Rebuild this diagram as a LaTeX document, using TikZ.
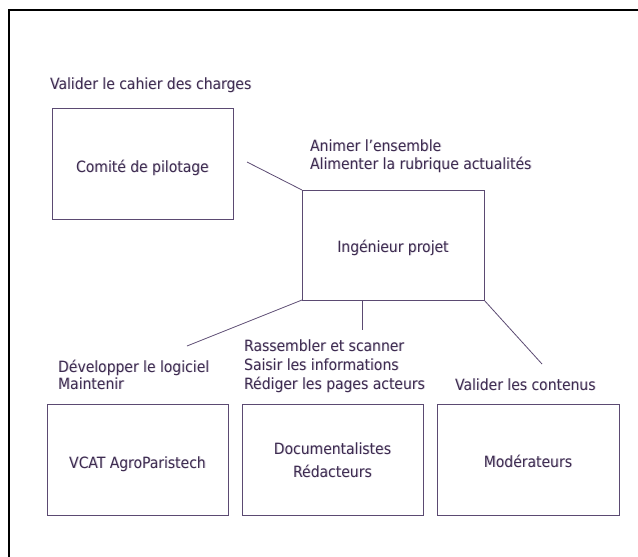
\documentclass[tikz,border=0pt]{standalone}
\usepackage{fontspec}
\setmainfont{DejaVu Sans Condensed}
\definecolor{ink}{HTML}{3D2B50}
\definecolor{edge}{HTML}{5B4A72}
\definecolor{shade}{HTML}{CFC9D6}
% text with a faint drop shadow
\newcommand{\shtext}[1]{\makebox[0pt][l]{\hspace{0.9pt}\raisebox{-0.9pt}{\textcolor{shade}{#1}}}#1}
\tikzset{
  box/.style={draw=edge, line width=1pt},
  link/.style={draw=edge, line width=0.8pt},
  frame/.style={draw=black, line width=2pt},
  lbl/.style={anchor=base west, inner sep=0pt, text=ink, font=\fontsize{15.5}{18}\selectfont},
  mid/.style={anchor=base, inner sep=0pt, text=ink, font=\fontsize{15.5}{18}\selectfont},
}
\begin{document}
\begin{tikzpicture}[x=1pt,y=-1pt]
\useasboundingbox (0,0) rectangle (638,557);
% page frame, cut on the right and bottom
\draw[frame] (9,557) -- (9,10) -- (638,10);

% boxes
\draw[box] (52,108) rectangle (233,219);
\draw[box] (302,190) coordinate (ipTL) rectangle (484,300) coordinate (ipBR);
\coordinate (ipBL) at (302,300);
\coordinate (ipBM) at (362,300);
\draw[box] (47,404) rectangle (228,515);
\draw[box] (242,404) rectangle (423,515);
\draw[box] (437,404) rectangle (619,515);

% connectors
\coordinate (c1) at (247,162);
\coordinate (c2) at (187,346);
\coordinate (c3) at (362,330);
\coordinate (c4) at (542,364);
\draw[link] (c1) -- (ipTL);
\draw[link] (ipBL) -- (c2);
\draw[link] (ipBM) -- (c3);
\draw[link] (ipBR) -- (c4);

% box titles
\node[mid] (tcp) at (142.5,172) {\shtext{Comité de pilotage}};
\node[mid] (tip) at (393,252) {\shtext{Ingénieur projet}};
\node[mid] (tvc) at (137.5,468) {\shtext{VCAT AgroParistech}};
\node[mid] (tdo) at (332.5,454) {\shtext{Documentalistes}};
\node[mid] (tre) at (332.5,477) {\shtext{Rédacteurs}};
\node[mid] (tmo) at (528,467) {\shtext{Modérateurs}};

% role descriptions
\node[lbl] (l1) at (50,89) {\shtext{Valider le cahier des charges}};
\node[lbl] (l2) at (310,151) {\shtext{Animer l’ensemble}};
\node[lbl] (l3) at (310,169) {\shtext{Alimenter la rubrique actualités}};
\node[lbl] (l4) at (58,372) {\shtext{Développer le logiciel}};
\node[lbl] (l5) at (58,389) {\shtext{Maintenir}};
\node[lbl] (l6) at (244,351) {\shtext{Rassembler et scanner}};
\node[lbl] (l7) at (244,370) {\shtext{Saisir les informations}};
\node[lbl] (l8) at (244,389) {\shtext{Rédiger les pages acteurs}};
\node[lbl] (l9) at (455,390) {\shtext{Valider les contenus}};
\end{tikzpicture}
\end{document}
